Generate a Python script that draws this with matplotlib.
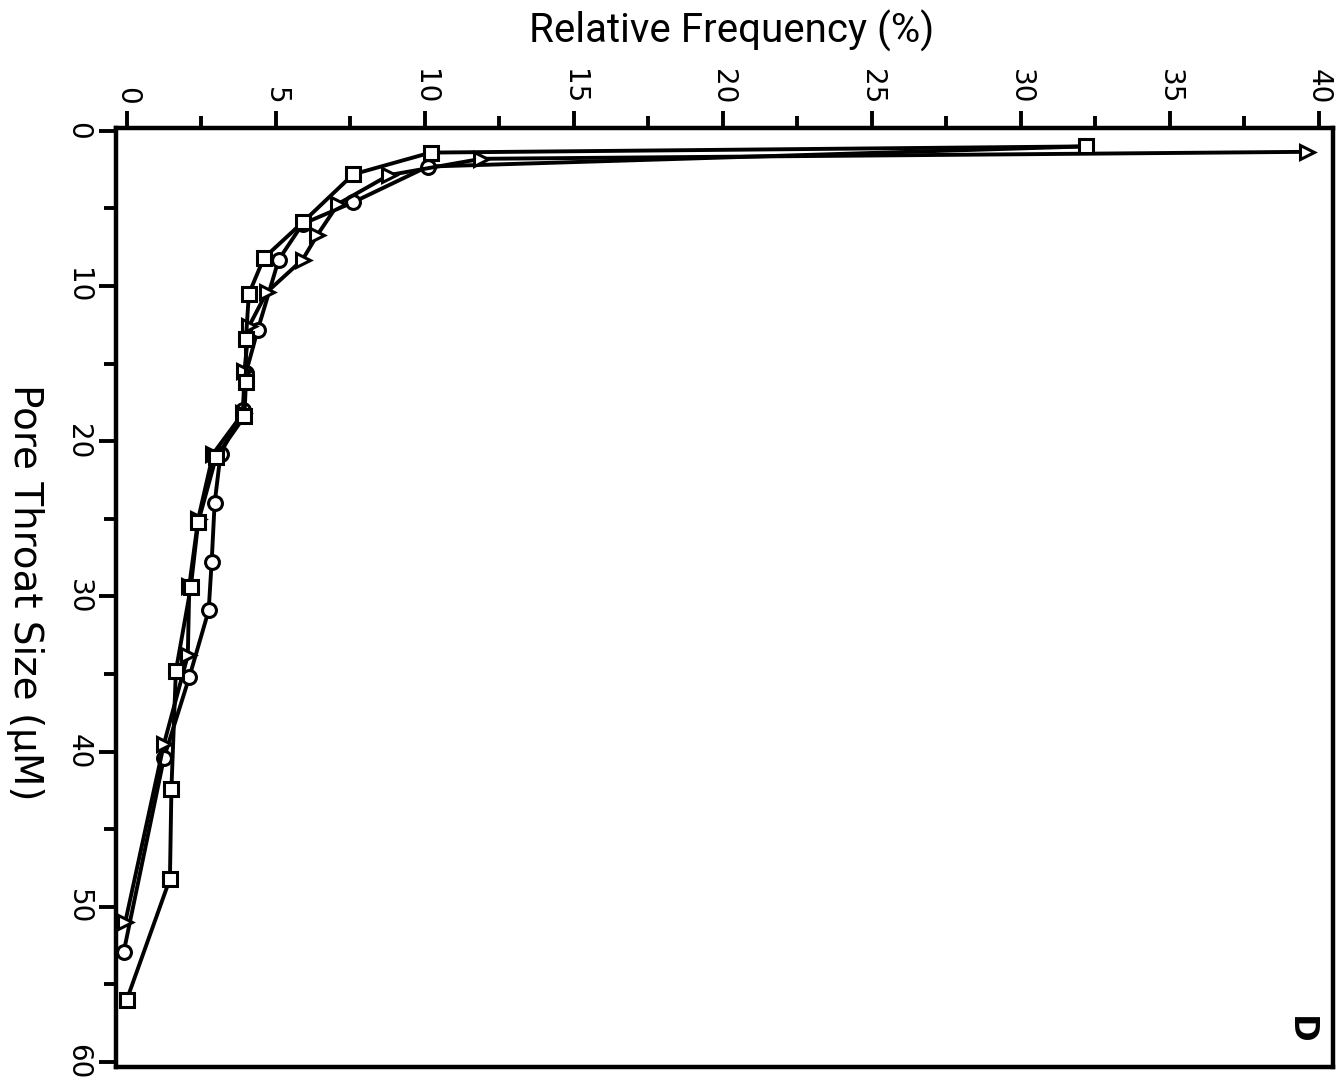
import matplotlib
matplotlib.use("Agg")
import matplotlib.pyplot as plt
from matplotlib.ticker import MultipleLocator

# pore throat size (uM) and relative frequency (%) for each sample
square_size = [1.0, 1.4, 2.8, 5.9, 8.2, 10.5, 13.4, 16.2, 18.4, 21.0, 25.2, 29.4, 34.8, 42.4, 48.2, 56.0]
square_freq = [32.2, 10.2, 7.6, 5.9, 4.6, 4.1, 4.0, 4.0, 3.95, 3.0, 2.4, 2.15, 1.65, 1.5, 1.45, 0.0]

circle_size = [1.0, 2.3, 4.6, 6.0, 8.3, 12.8, 15.6, 18.0, 20.8, 24.0, 27.8, 30.9, 35.2, 40.4, 52.9]
circle_freq = [32.2, 10.1, 7.6, 5.9, 5.1, 4.4, 4.0, 3.9, 3.15, 2.95, 2.85, 2.75, 2.1, 1.25, -0.1]

triangle_size = [1.35, 1.8, 2.85, 4.7, 6.7, 8.3, 10.4, 12.6, 15.5, 18.2, 20.8, 25.0, 29.3, 33.8, 39.5, 51.0]
triangle_freq = [39.6, 11.9, 8.8, 7.1, 6.4, 5.9, 4.7, 4.1, 3.95, 3.9, 2.9, 2.4, 2.1, 2.05, 1.25, -0.05]

freq_ticks = [0, 5, 10, 15, 20, 25, 30, 35, 40]
size_ticks = [0, 10, 20, 30, 40, 50, 60]

fig = plt.figure(figsize=(13.44, 10.85), dpi=100)
ax = fig.add_axes([0.0863, 0.0166, 0.9055, 0.8655])

style = dict(color="black", lw=2.8, mfc="white", mec="black", mew=2.2, ms=10)
ax.plot(circle_freq, circle_size, marker="o", **style)
ax.plot(triangle_freq, triangle_size, marker=">", **style)
ax.plot(square_freq, square_size, marker="s", **style)

ax.set_xlim(-0.36, 40.48)
ax.set_ylim(60.32, -0.19)

ax.xaxis.tick_top()
ax.set_xticks(freq_ticks)
ax.xaxis.set_minor_locator(MultipleLocator(2.5))
ax.set_yticks(size_ticks)
ax.yaxis.set_minor_locator(MultipleLocator(5))

ax.tick_params(which="both", direction="out", width=2.8, labelsize=20)
ax.tick_params(which="major", length=12, pad=5)
ax.tick_params(which="minor", length=9)
for lab in ax.get_xticklabels() + ax.get_yticklabels():
    lab.set_rotation(270)
    lab.set_fontfamily("DejaVu Sans")
for lab in ax.get_xticklabels():
    lab.set_va("bottom")
for lab in ax.get_yticklabels():
    lab.set_va("center")

for sp in ax.spines.values():
    sp.set_linewidth(3.2)

fig.text(0.544, 1 - 31 / 1085, "Relative Frequency (%)", ha="center", va="center",
         fontsize=29, family="Roboto")
fig.text(0.0186, 1 - 592 / 1085, "Pore Throat Size (\u03bcM)", ha="center", va="center",
         rotation=270, fontsize=28, family="DejaVu Sans")

ax.text(39.4, 57.9, "D", rotation=270, ha="center", va="center", fontsize=24,
        fontweight="bold", family="DejaVu Sans")

fig.savefig("out.png", dpi=100)
